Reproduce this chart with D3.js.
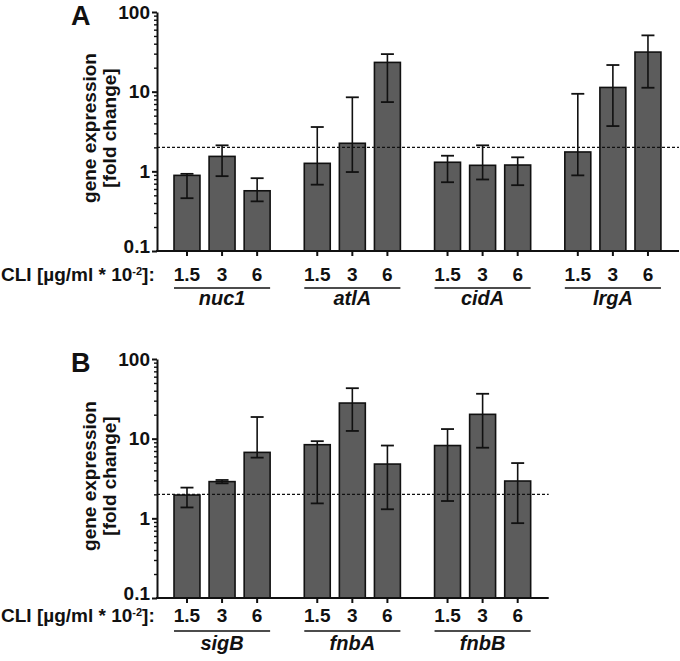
<!DOCTYPE html>
<html><head><meta charset="utf-8">
<script src="https://cdn.jsdelivr.net/npm/d3@7"></script>
<style>
body{margin:0;background:#fff;}
svg text{font-family:"Liberation Sans",Arial,sans-serif;font-weight:bold;fill:#111;}
</style></head>
<body><svg id="c" width="680" height="661"></svg>
<script>
// ---- data ----
const doses = ["1.5", "3", "6"];
const genesA = ["nuc1", "atlA", "cidA", "lrgA"];
const meanA = [[0.89, 1.54, 0.57], [1.26, 2.25, 23.3], [1.30, 1.19, 1.20], [1.75, 11.3, 31.4]];
const upA   = [[0.93, 2.12, 0.82], [3.6, 8.5, 29.6], [1.57, 2.12, 1.50], [9.4, 21.6, 50.9]];
const loA   = [[0.46, 0.87, 0.42], [0.68, 0.98, 7.4], [0.73, 0.79, 0.67], [0.89, 3.7, 11.2]];
const genesB = ["sigB", "fnbA", "fnbB"];
const meanB = [[1.96, 2.89, 6.73], [8.4, 28.0, 4.8], [8.2, 20.2, 2.94]];
const upB   = [[2.43, 3.03, 18.7], [9.3, 43.0, 8.2], [13.2, 36.6, 4.94]];
const loB   = [[1.37, 2.75, 5.78], [1.54, 12.5, 1.3], [1.65, 7.7, 0.87]];
const yTicks = [0.1, 1, 10, 100];
const threshold = 2;
const xTitle = "CLI [µg/ml * 10";
const yTitle = ["gene expression", "[fold change]"];

// ---- layout ----
const svg = d3.select("#c");
const groupGap = 0.714;
const pos = (g, i) => g * (3 + groupGap) + i;
const x = d3.scaleLinear().domain([-0.855, pos(3, 2) + 0.885]).range([157, 679]);
const barW = 0.74, capW = 0.37;
const FS = 19;

function panel(letter, genes, mean, up, lo, yTop, yBot, lblBase, lineY, geneBase, titleCY) {
  const y = d3.scaleLog().domain([0.1, 100]).range([yBot, yTop]);
  const g = svg.append("g");
  const nG = genes.length;
  const xEnd = x(pos(nG - 1, 2) + 0.885);
  const data = [];
  genes.forEach((gn, gi) => doses.forEach((d, di) => data.push({gi, di, p: pos(gi, di), m: mean[gi][di], u: up[gi][di], l: lo[gi][di]})));

  // bars
  const bw = x(barW) - x(0);
  g.selectAll("rect.bar").data(data).join("rect")
    .attr("x", d => x(d.p) - bw / 2).attr("width", bw)
    .attr("y", d => y(d.m)).attr("height", d => y(0.1) - y(d.m))
    .attr("fill", "#5c5c5c").attr("stroke", "#111").attr("stroke-width", 1.6);

  // error bars
  const cw = x(capW) - x(0);
  const eb = g.selectAll("g.eb").data(data).join("g");
  eb.append("line").attr("x1", d => x(d.p)).attr("x2", d => x(d.p))
    .attr("y1", d => y(d.u)).attr("y2", d => y(d.l)).attr("stroke", "#111").attr("stroke-width", 1.6);
  ["u", "l"].forEach(k => {
    eb.append("line").attr("x1", d => x(d.p) - cw / 2).attr("x2", d => x(d.p) + cw / 2)
      .attr("y1", d => y(d[k])).attr("y2", d => y(d[k])).attr("stroke", "#111").attr("stroke-width", 1.8);
  });

  // threshold line
  g.append("line").attr("x1", x.range()[0]).attr("x2", xEnd)
    .attr("y1", y(threshold)).attr("y2", y(threshold))
    .attr("stroke", "#111").attr("stroke-width", 1.4).attr("stroke-dasharray", "3,2");

  // y axis minor ticks
  const minor = [];
  for (let e = -1; e < 2; e++) for (let k = 2; k <= 9; k++) minor.push(k * Math.pow(10, e));
  g.append("g").attr("transform", `translate(${x.range()[0]},0)`)
    .call(d3.axisLeft(y).tickValues(minor).tickSize(3).tickFormat(""))
    .call(a => a.select(".domain").remove())
    .selectAll("line").attr("stroke", "#111").attr("stroke-width", 1.4);
  // y axis major
  const ya = g.append("g").attr("transform", `translate(${x.range()[0]},0)`)
    .call(d3.axisLeft(y).tickValues(yTicks).tickSize(5).tickSizeOuter(0).tickPadding(2).tickFormat(d3.format("~g")));
  ya.select(".domain").attr("stroke", "#111").attr("stroke-width", 2);
  ya.selectAll("line").attr("stroke", "#111").attr("stroke-width", 2);
  ya.selectAll("text").attr("font-size", FS).attr("font-family", "Liberation Sans, Arial").attr("font-weight", "bold").attr("fill", "#111")
    .attr("dy", d => d === 0.1 ? "0.1em" : "0.32em");

  // x baseline + ticks
  g.append("line").attr("x1", x.range()[0] - 1).attr("x2", xEnd).attr("y1", yBot).attr("y2", yBot)
    .attr("stroke", "#111").attr("stroke-width", 2);
  g.selectAll("line.xt").data(data).join("line")
    .attr("x1", d => x(d.p)).attr("x2", d => x(d.p)).attr("y1", yBot).attr("y2", yBot + 5)
    .attr("stroke", "#111").attr("stroke-width", 2);

  // dose labels
  g.selectAll("text.dose").data(data).join("text")
    .attr("x", d => x(d.p)).attr("y", lblBase).attr("text-anchor", "middle").attr("font-size", FS)
    .text(d => doses[d.di]);
  // group underlines + gene names
  genes.forEach((gn, gi) => {
    g.append("line").attr("x1", x(pos(gi, 0)) - bw / 2).attr("x2", x(pos(gi, 2)) + bw / 2)
      .attr("y1", lineY).attr("y2", lineY).attr("stroke", "#111").attr("stroke-width", 1.6);
    g.append("text").attr("x", x(pos(gi, 1))).attr("y", geneBase).attr("text-anchor", "middle")
      .attr("font-size", FS + 1).attr("font-style", "italic").text(gn);
  });

  // CLI label
  const t = g.append("text").attr("x", 1).attr("y", lblBase).attr("font-size", FS);
  t.append("tspan").text(xTitle);
  t.append("tspan").attr("dy", -6).attr("font-size", 11).text("-2");
  t.append("tspan").attr("dy", 6).text("]:");

  // y title
  const yt = g.append("text").attr("transform", `translate(96,${titleCY}) rotate(-90)`)
    .attr("text-anchor", "middle").attr("font-size", FS);
  yt.append("tspan").attr("x", 0).attr("y", 0).text(yTitle[0]);
  yt.append("tspan").attr("x", 0).attr("y", 20).text(yTitle[1]);

  // panel letter
  g.append("text").attr("x", 71).attr("y", yTop + 13).attr("font-size", 27).text(letter);
}

panel("A", genesA, meanA, upA, loA, 12, 251, 281, 288, 305, 128);
panel("B", genesB, meanB, upB, loB, 359, 598, 622, 631, 650, 476);
</script></body></html>
